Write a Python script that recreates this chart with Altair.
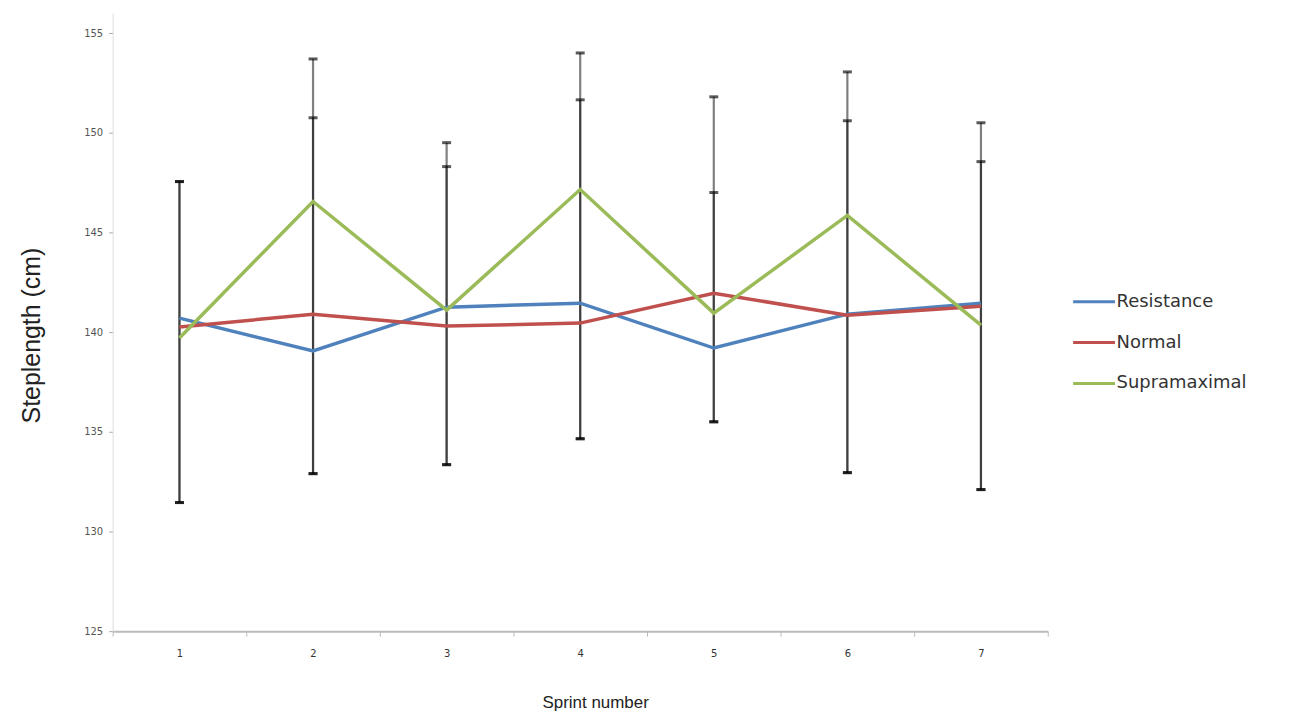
import altair as alt
import pandas as pd

sprints = [1, 2, 3, 4, 5, 6, 7]
series_names = ["Resistance", "Normal", "Supramaximal"]
resistance = [140.7, 139.05, 141.25, 141.45, 139.2, 140.9, 141.45]
normal = [140.25, 140.9, 140.3, 140.45, 141.95, 140.85, 141.3]
supramaximal = [139.7, 146.55, 141.1, 147.15, 140.95, 145.85, 140.35]

# error whiskers
err_high_outer = [147.55, 153.7, 149.5, 154.0, 151.8, 153.05, 150.5]
err_high_inner = [147.55, 150.75, 148.3, 151.65, 147.0, 150.6, 148.55]
err_low = [131.45, 132.9, 133.35, 134.65, 135.5, 132.95, 132.1]

colors = ["#4F81BD", "#C0504D", "#9BBB59"]

rows = []
for name, vals in zip(series_names, [resistance, normal, supramaximal]):
    for s, v in zip(sprints, vals):
        rows.append({"Sprint": str(s), "Series": name, "Value": v})
lines_df = pd.DataFrame(rows)

err_rows = []
for s, lo, hi1, hi2 in zip(sprints, err_low, err_high_outer, err_high_inner):
    err_rows.append({"Sprint": str(s), "low": lo, "high": hi1})
    err_rows.append({"Sprint": str(s), "low": lo, "high": hi2})
err_df = pd.DataFrame(err_rows)

x_enc = alt.X(
    "Sprint:O",
    sort=[str(s) for s in sprints],
    scale=alt.Scale(paddingInner=0, paddingOuter=0),
    axis=alt.Axis(
        title="Sprint number",
        labelAngle=0,
        labelFont="DejaVu Sans",
        labelFontSize=10,
        labelColor="#333333",
        labelPadding=12,
        tickBand="extent",
        tickSize=5,
        tickColor="#bbbbbb",
        domainColor="#bbbbbb",
        domainWidth=2,
        titleFont="Liberation Sans",
        titleFontSize=17,
        titleFontWeight="normal",
        titleColor="#222222",
        titleX=484,
        titleY=64,
    ),
)

y_scale = alt.Scale(domain=[125, 156], nice=False, zero=False)
y_axis = alt.Axis(
    title="Steplength (cm)",
    values=[125, 130, 135, 140, 145, 150, 155],
    grid=False,
    labelFont="DejaVu Sans",
    labelFontSize=10,
    labelColor="#555555",
    labelPadding=6,
    tickSize=4,
    tickColor="#aaaaaa",
    domainColor="#dddddd",
    titleFont="Liberation Sans",
    titleFontSize=25,
    titleFontWeight="normal",
    titleColor="#222222",
    titleX=-68,
    titleY=323,
)

err_rule = alt.Chart(err_df).mark_rule(color="#000000", opacity=0.5, strokeWidth=2.2).encode(
    x=x_enc,
    y=alt.Y("low:Q", scale=y_scale, axis=y_axis),
    y2="high:Q",
)
cap_hi = alt.Chart(err_df).mark_tick(color="#000000", opacity=0.65, size=9, thickness=3, orient="horizontal").encode(
    x=x_enc, y=alt.Y("high:Q", scale=y_scale)
)
cap_lo = alt.Chart(err_df).mark_tick(color="#000000", opacity=0.65, size=9, thickness=3, orient="horizontal").encode(
    x=x_enc, y=alt.Y("low:Q", scale=y_scale)
)

lines = alt.Chart(lines_df).mark_line(strokeWidth=3.5).encode(
    x=x_enc,
    y=alt.Y("Value:Q", scale=y_scale),
    color=alt.Color(
        "Series:N",
        sort=series_names,
        scale=alt.Scale(domain=series_names, range=colors),
        legend=alt.Legend(
            title=None,
            orient="none",
            legendX=962,
            legendY=267,
            symbolType="stroke",
            symbolSize=1764,
            symbolStrokeWidth=3,
            labelFont="DejaVu Sans",
            labelFontSize=18,
            labelColor="#333333",
            labelOffset=0,
            rowPadding=9,
        ),
    ),
)

chart = (
    alt.layer(err_rule, cap_hi, cap_lo, lines)
    .properties(
        width=938,
        height=620,
        autosize=alt.AutoSizeParams(type="none"),
        padding={"left": 105, "top": 4, "right": 235, "bottom": 80},
        background="white",
    )
    .configure_view(stroke=None)
)

chart.save("out.html", embed_options={"renderer": "svg", "actions": False})
